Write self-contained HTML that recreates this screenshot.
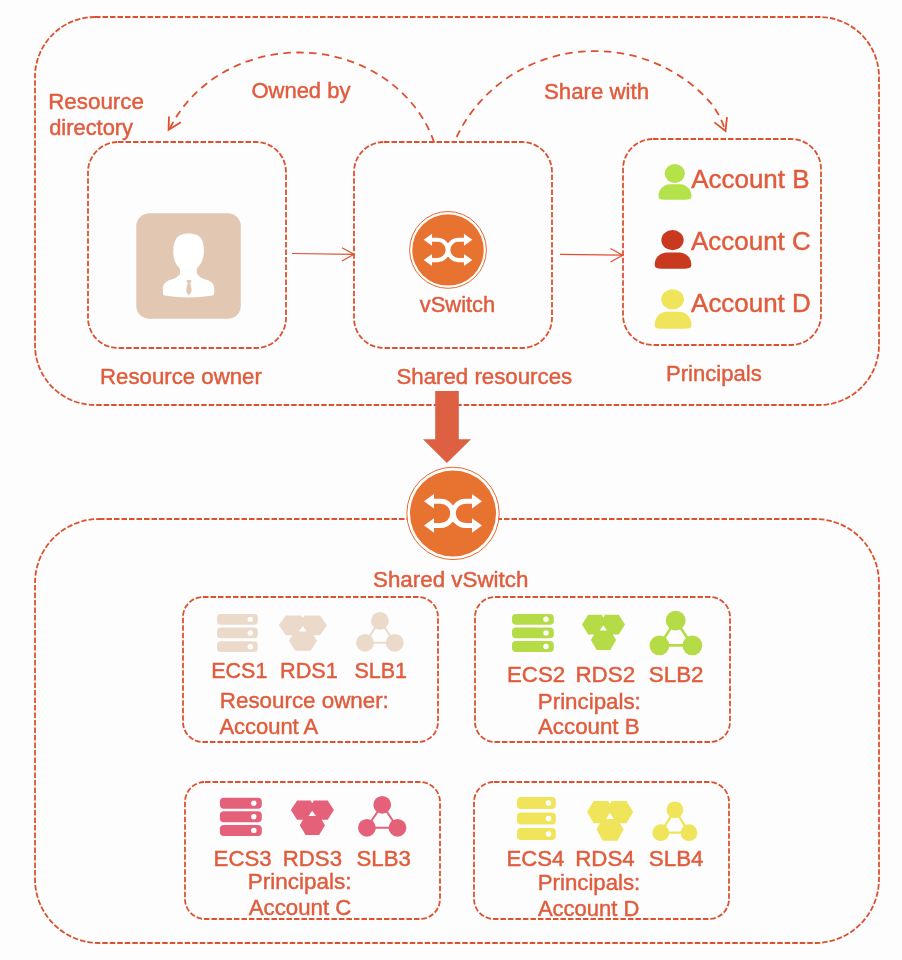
<!DOCTYPE html><html><head><meta charset="utf-8"><style>html,body{margin:0;padding:0;background:#fdfdfd;}svg{display:block;will-change:transform;font-family:"Liberation Sans",sans-serif;}</style></head><body>
<svg width="902" height="960" viewBox="0 0 902 960">
<rect width="902" height="960" fill="#fdfdfd"/>
<rect x="35" y="17" width="844" height="388" rx="60" ry="60" fill="none" stroke="#DE5130" stroke-width="1.8" stroke-dasharray="5.5 2"/>
<rect x="35" y="519" width="844" height="424" rx="64" ry="64" fill="none" stroke="#DE5130" stroke-width="1.8" stroke-dasharray="5.5 2"/>
<rect x="88" y="142" width="198" height="206" rx="30" ry="30" fill="none" stroke="#DE5130" stroke-width="1.8" stroke-dasharray="5.5 2"/>
<rect x="354" y="142" width="198" height="206" rx="30" ry="30" fill="none" stroke="#DE5130" stroke-width="1.8" stroke-dasharray="5.5 2"/>
<rect x="623" y="139" width="198" height="206" rx="30" ry="30" fill="none" stroke="#DE5130" stroke-width="1.8" stroke-dasharray="5.5 2"/>
<rect x="183" y="597" width="255" height="145" rx="20" ry="20" fill="none" stroke="#DE5130" stroke-width="1.8" stroke-dasharray="5.5 2"/>
<rect x="475" y="597" width="255" height="145" rx="20" ry="20" fill="none" stroke="#DE5130" stroke-width="1.8" stroke-dasharray="5.5 2"/>
<rect x="185" y="782" width="255" height="137" rx="20" ry="20" fill="none" stroke="#DE5130" stroke-width="1.8" stroke-dasharray="5.5 2"/>
<rect x="474" y="782" width="255" height="137" rx="20" ry="20" fill="none" stroke="#DE5130" stroke-width="1.8" stroke-dasharray="5.5 2"/>
<path d="M434,142 A141.7 128.7 0 0 0 169.5,129" fill="none" stroke="#DE5130" stroke-width="1.8" stroke-dasharray="7.5 5.4"/>
<path d="M169,116.5 L168.6,129.8 L180.8,122.3" fill="none" stroke="#DE5130" stroke-width="1.8"/>
<path d="M456.6,137 A152.3 147.8 0 0 1 712,104.3 Q720.5,116 725.3,130.5" fill="none" stroke="#DE5130" stroke-width="1.8" stroke-dasharray="7.5 5.4"/>
<path d="M714.4,122.4 L725.5,131 L727,117.2" fill="none" stroke="#DE5130" stroke-width="1.8"/>
<path d="M292,253.5 L354,254.3 M342,247.8 L354,254.3 L342,261.1" fill="none" stroke="#DE5130" stroke-width="1.2"/>
<path d="M560,254.3 L622.8,255.2 M610.4,248.5 L622.8,255.2 L610.4,262" fill="none" stroke="#DE5130" stroke-width="1.2"/>
<path d="M435.2,391 H458.8 V439.2 H471 L446.9,463 L423,439.2 H435.2 Z" fill="#DE6042"/>
<rect x="136.3" y="213.2" width="104.5" height="105.5" rx="13" fill="#E2C7B2"/>
<path d="M188.3,233.6 C196,233.6 200.5,236 202.5,241 C203.6,244 203.9,248 203.9,252 C203.9,258 201.5,263.5 198,267 C197,268 196.8,269 196.8,270.5 L197,274 C199,277 203,279 207,280 C211,281 214.3,284 214.3,289 L214,293.5 C214,295 213,295.5 212,295.6 C205,296.8 196,297.5 188.5,297.5 C181,297.5 172,296.8 165,295.6 C164,295.5 163,295 163,293.5 L162.8,289 C162.8,284 166,281 170,280 C174,279 178,277 180,274 L180,270.5 C180,269 179.5,268 178.5,267 C175,263.5 173.3,258 173.3,252 C173.3,247 173.8,243 175.5,240 C177.5,236 182,233.6 188.3,233.6 Z" fill="#fff"/>
<path d="M186.4,280.2 Q188.9,279.2 191.5,280.2 L190.6,283 Q188.9,283.6 187.3,283 Z M187.4,283.6 L190.4,283.6 L191.7,290.6 Q191.6,292.2 188.9,295.6 Q186.2,292.2 186.1,290.6 Z" fill="#E2C7B2"/>
<circle cx="448" cy="249.9" r="38.4" fill="#fff" stroke="#E6692F" stroke-width="1"/>
<circle cx="448" cy="249.9" r="35.7" fill="#E8722F"/>
<g transform="translate(448 249.9) scale(0.84)" fill="#fff">
<path d="M-19.6,-12.1 H-12.4 A12.1 12.1 0 0 1 -12.4,12.1 H-19.6 M19.6,-12.1 H12.4 A12.1 12.1 0 0 0 12.4,12.1 H19.6" fill="none" stroke="#fff" stroke-width="5"/>
<path d="M-29,-12.1 L-19,-19.3 L-19,-5 Z M-29,12.1 L-19,4.9 L-19,19.3 Z M29,-12.1 L19,-19.3 L19,-5 Z M29,12.1 L19,4.9 L19,19.3 Z"/>
</g>
<circle cx="453" cy="513.4" r="46.2" fill="#fff" stroke="#E6692F" stroke-width="1"/>
<circle cx="453" cy="513.4" r="43" fill="#E8722F"/>
<g transform="translate(453 513.4) scale(1.0)" fill="#fff">
<path d="M-19.6,-12.1 H-12.4 A12.1 12.1 0 0 1 -12.4,12.1 H-19.6 M19.6,-12.1 H12.4 A12.1 12.1 0 0 0 12.4,12.1 H19.6" fill="none" stroke="#fff" stroke-width="5"/>
<path d="M-29,-12.1 L-19,-19.3 L-19,-5 Z M-29,12.1 L-19,4.9 L-19,19.3 Z M29,-12.1 L19,-19.3 L19,-5 Z M29,12.1 L19,4.9 L19,19.3 Z"/>
</g>
<ellipse cx="674.8" cy="173.5" rx="10.1" ry="9.45" fill="#B4E24A"/>
<path d="M658.5,195.9 C658.5,188.2 665.5,184.2 669.06,184.2 L680.94,184.2 C684.5,184.2 691.5,188.2 691.5,195.9 C691.5,198.70000000000002 690.0,199.3 687.5,199.5 C683.0,199.9 667.0,199.9 662.5,199.5 C660.0,199.3 658.5,198.70000000000002 658.5,195.9 Z" fill="#B4E24A"/>
<ellipse cx="672.5" cy="240.1" rx="11.15" ry="10.1" fill="#C8391F"/>
<path d="M654.7,264.8 C654.7,256.4 661.7,252.4 666.412,252.4 L679.588,252.4 C684.3,252.4 691.3,256.4 691.3,264.8 C691.3,267.6 689.8,268.2 687.3,268.40000000000003 C681.0,268.8 665.0,268.8 658.7,268.40000000000003 C656.2,268.2 654.7,267.6 654.7,264.8 Z" fill="#C8391F"/>
<ellipse cx="672.6" cy="299.35" rx="11.35" ry="10.15" fill="#F0E55A"/>
<path d="M654.7,324.9 C654.7,315.8 661.7,311.8 666.476,311.8 L679.724,311.8 C684.5,311.8 691.5,315.8 691.5,324.9 C691.5,327.7 690.0,328.29999999999995 687.5,328.5 C681.1,328.9 665.1,328.9 658.7,328.5 C656.2,328.29999999999995 654.7,327.7 654.7,324.9 Z" fill="#F0E55A"/>
<rect x="217" y="614" width="40.80000000000001" height="10.7" rx="4" fill="#EBD9CA"/>
<circle cx="250.3" cy="619.35" r="2.7" fill="#fff"/>
<rect x="217" y="627.6" width="40.80000000000001" height="10.7" rx="4" fill="#EBD9CA"/>
<circle cx="250.3" cy="632.95" r="2.7" fill="#fff"/>
<rect x="217" y="641.3" width="40.80000000000001" height="10.7" rx="4" fill="#EBD9CA"/>
<circle cx="250.3" cy="646.65" r="2.7" fill="#fff"/>
<path d="M285.84,615.50 L301.05,615.50 L302.73,618.21 L304.52,615.50 L320.06,615.50 L327.00,625.23 L320.06,635.36 L313.35,635.36 L317.04,640.77 L310.56,650.80 L295.34,650.80 L288.86,640.77 L292.32,635.36 L285.84,635.36 L278.90,625.23 Z M302.73,626.13 L306.87,631.45 L298.59,631.45 Z" fill="#EBD9CA" fill-rule="evenodd"/>
<path d="M379.9,620.8 L365,642.8 L394.8,642.8 Z" fill="none" stroke="#EBD9CA" stroke-width="2"/>
<circle cx="379.9" cy="620.8" r="8.9" fill="#EBD9CA"/>
<circle cx="365" cy="642.8" r="8.9" fill="#EBD9CA"/>
<circle cx="394.8" cy="642.8" r="8.9" fill="#EBD9CA"/>
<rect x="512" y="613.9" width="41.799999999999955" height="10.8" rx="4" fill="#B5DC47"/>
<circle cx="546" cy="619.3" r="2.7" fill="#fff"/>
<rect x="512" y="627.5" width="41.799999999999955" height="10.8" rx="4" fill="#B5DC47"/>
<circle cx="546" cy="632.9" r="2.7" fill="#fff"/>
<rect x="512" y="641.1" width="41.799999999999955" height="10.8" rx="4" fill="#B5DC47"/>
<circle cx="546" cy="646.5" r="2.7" fill="#fff"/>
<path d="M588.20,614.70 L601.80,614.70 L603.30,617.40 L604.90,614.70 L618.80,614.70 L625.00,624.40 L618.80,634.50 L612.80,634.50 L616.10,639.90 L610.30,649.90 L596.70,649.90 L590.90,639.90 L594.00,634.50 L588.20,634.50 L582.00,624.40 Z M603.30,625.30 L607.00,630.60 L599.60,630.60 Z" fill="#B5DC47" fill-rule="evenodd"/>
<path d="M675.7,620.6 L659.4,645.4 L692.4,645.4 Z" fill="none" stroke="#B5DC47" stroke-width="2.6"/>
<circle cx="675.7" cy="620.6" r="9.9" fill="#B5DC47"/>
<circle cx="659.4" cy="645.4" r="9.9" fill="#B5DC47"/>
<circle cx="692.4" cy="645.4" r="9.9" fill="#B5DC47"/>
<rect x="219.9" y="797.8" width="41.900000000000006" height="11" rx="4" fill="#E5617A"/>
<circle cx="253.8" cy="803.3" r="2.7" fill="#fff"/>
<rect x="219.9" y="811.3" width="41.900000000000006" height="11" rx="4" fill="#E5617A"/>
<circle cx="253.8" cy="816.8" r="2.7" fill="#fff"/>
<rect x="219.9" y="824.9" width="41.900000000000006" height="11" rx="4" fill="#E5617A"/>
<circle cx="253.8" cy="830.4" r="2.7" fill="#fff"/>
<path d="M297.10,800.50 L310.70,800.50 L312.20,803.14 L313.80,800.50 L327.70,800.50 L333.90,809.98 L327.70,819.85 L321.70,819.85 L325.00,825.13 L319.20,834.90 L305.60,834.90 L299.80,825.13 L302.90,819.85 L297.10,819.85 L290.90,809.98 Z M312.20,810.86 L315.90,816.04 L308.50,816.04 Z" fill="#E5617A" fill-rule="evenodd"/>
<path d="M382.2,804.8 L366.9,827.8 L397.5,827.8 Z" fill="none" stroke="#E5617A" stroke-width="2"/>
<circle cx="382.2" cy="804.8" r="8.9" fill="#E5617A"/>
<circle cx="366.9" cy="827.8" r="8.9" fill="#E5617A"/>
<circle cx="397.5" cy="827.8" r="8.9" fill="#E5617A"/>
<rect x="517" y="797" width="38.799999999999955" height="12" rx="4" fill="#F0E55A"/>
<circle cx="548.5" cy="803.0" r="2.8" fill="#fff"/>
<rect x="517" y="812.5" width="38.799999999999955" height="12" rx="4" fill="#F0E55A"/>
<circle cx="548.5" cy="818.5" r="2.8" fill="#fff"/>
<rect x="517" y="828" width="38.799999999999955" height="12" rx="4" fill="#F0E55A"/>
<circle cx="548.5" cy="834.0" r="2.8" fill="#fff"/>
<path d="M593.66,800.90 L608.27,800.90 L609.89,803.96 L611.60,800.90 L626.54,800.90 L633.20,811.90 L626.54,823.34 L620.09,823.34 L623.64,829.46 L617.41,840.80 L602.79,840.80 L596.56,829.46 L599.89,823.34 L593.66,823.34 L587.00,811.90 Z M609.89,812.92 L613.86,818.92 L605.91,818.92 Z" fill="#F0E55A" fill-rule="evenodd"/>
<path d="M674.9,809.8 L660.8,832.7 L689,832.7 Z" fill="none" stroke="#F0E55A" stroke-width="2.3"/>
<circle cx="674.9" cy="809.8" r="8.4" fill="#F0E55A"/>
<circle cx="660.8" cy="832.7" r="8.4" fill="#F0E55A"/>
<circle cx="689" cy="832.7" r="8.4" fill="#F0E55A"/>
<text transform="translate(48.2 109.0)" font-size="22.36" fill="#E05C3C" stroke="#E05C3C" stroke-width="0.45">Resource</text>
<text transform="translate(49.2 135.0)" font-size="21.87" fill="#E05C3C" stroke="#E05C3C" stroke-width="0.45">directory</text>
<text transform="translate(251.4 97.7)" font-size="22.0" fill="#E05C3C" stroke="#E05C3C" stroke-width="0.45">Owned by</text>
<text transform="translate(544.0 98.77)" font-size="22.24" fill="#E05C3C" stroke="#E05C3C" stroke-width="0.45">Share with</text>
<text transform="translate(691.2 187.9)" font-size="25.96" fill="#E05C3C" stroke="#E05C3C" stroke-width="0.45">Account B</text>
<text transform="translate(691.0 250.3)" font-size="25.96" fill="#E05C3C" stroke="#E05C3C" stroke-width="0.45">Account C</text>
<text transform="translate(691.1 312.3)" font-size="25.93" fill="#E05C3C" stroke="#E05C3C" stroke-width="0.45">Account D</text>
<text transform="translate(419.8 311.6)" font-size="21.9" fill="#E05C3C" stroke="#E05C3C" stroke-width="0.45">vSwitch</text>
<text transform="translate(100.0 383.8)" font-size="22.24" fill="#E05C3C" stroke="#E05C3C" stroke-width="0.45">Resource owner</text>
<text transform="translate(396.4 383.89)" font-size="22.27" fill="#E05C3C" stroke="#E05C3C" stroke-width="0.45">Shared resources</text>
<text transform="translate(666.0 380.96)" font-size="22.09" fill="#E05C3C" stroke="#E05C3C" stroke-width="0.45">Principals</text>
<text transform="translate(373.0 586.8)" font-size="22.36" fill="#E05C3C" stroke="#E05C3C" stroke-width="0.45">Shared vSwitch</text>
<text transform="translate(211.2 677.9)" font-size="21.5" fill="#E05C3C" stroke="#E05C3C" stroke-width="0.45">ECS1</text>
<text transform="translate(280.0 677.9)" font-size="21.7" fill="#E05C3C" stroke="#E05C3C" stroke-width="0.45">RDS1</text>
<text transform="translate(354.4 677.9)" font-size="21.5" fill="#E05C3C" stroke="#E05C3C" stroke-width="0.45">SLB1</text>
<text transform="translate(219.8 707.56)" font-size="22.36" fill="#E05C3C" stroke="#E05C3C" stroke-width="0.45">Resource owner:</text>
<text transform="translate(219.4 733.5)" font-size="21.96" fill="#E05C3C" stroke="#E05C3C" stroke-width="0.45">Account A</text>
<text transform="translate(507.0 681.5)" font-size="22.3" fill="#E05C3C" stroke="#E05C3C" stroke-width="0.45">ECS2</text>
<text transform="translate(575.4 681.5)" font-size="22.4" fill="#E05C3C" stroke="#E05C3C" stroke-width="0.45">RDS2</text>
<text transform="translate(648.8 681.5)" font-size="22.4" fill="#E05C3C" stroke="#E05C3C" stroke-width="0.45">SLB2</text>
<text transform="translate(537.8 709.24)" font-size="22.34" fill="#E05C3C" stroke="#E05C3C" stroke-width="0.45">Principals:</text>
<text transform="translate(538.0 734.4)" font-size="22.31" fill="#E05C3C" stroke="#E05C3C" stroke-width="0.45">Account B</text>
<text transform="translate(213.6 866.0)" font-size="22.2" fill="#E05C3C" stroke="#E05C3C" stroke-width="0.45">ECS3</text>
<text transform="translate(282.8 866.0)" font-size="22.2" fill="#E05C3C" stroke="#E05C3C" stroke-width="0.45">RDS3</text>
<text transform="translate(356.5 866.0)" font-size="22.2" fill="#E05C3C" stroke="#E05C3C" stroke-width="0.45">SLB3</text>
<text transform="translate(247.8 888.85)" font-size="22.49" fill="#E05C3C" stroke="#E05C3C" stroke-width="0.45">Principals:</text>
<text transform="translate(248.8 914.5)" font-size="22.22" fill="#E05C3C" stroke="#E05C3C" stroke-width="0.45">Account C</text>
<text transform="translate(506.4 866.0)" font-size="22.2" fill="#E05C3C" stroke="#E05C3C" stroke-width="0.45">ECS4</text>
<text transform="translate(575.2 866.0)" font-size="22.3" fill="#E05C3C" stroke="#E05C3C" stroke-width="0.45">RDS4</text>
<text transform="translate(648.8 866.0)" font-size="22.4" fill="#E05C3C" stroke="#E05C3C" stroke-width="0.45">SLB4</text>
<text transform="translate(537.8 890.16)" font-size="22.22" fill="#E05C3C" stroke="#E05C3C" stroke-width="0.45">Principals:</text>
<text transform="translate(537.9 916.0)" font-size="22.0" fill="#E05C3C" stroke="#E05C3C" stroke-width="0.45">Account D</text>
</svg></body></html>
